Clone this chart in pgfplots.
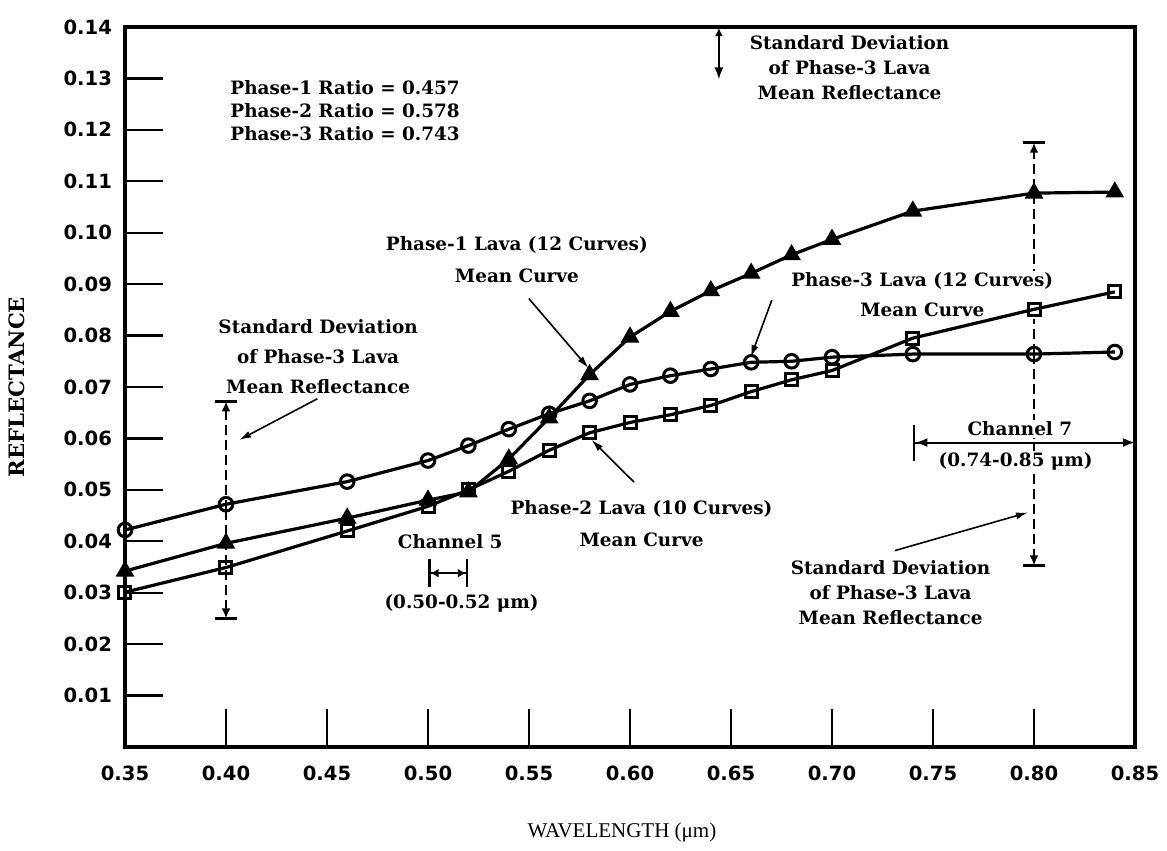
\documentclass[border=0pt]{standalone}
\usepackage{fontspec}
\usepackage{pgfplots}
\usepackage{pgfplotstable}
\pgfplotsset{compat=1.18}
\usetikzlibrary{arrows.meta}
\setmainfont{DejaVu Serif}
\newfontfamily\ticksfont{DejaVu Sans}
\newfontfamily\timesfont{Liberation Serif}

% Mean reflectance curves of the three lava phases
\pgfplotstableread{
wl    r
0.35 0.0342
0.40 0.0396
0.46 0.0445
0.50 0.0480
0.52 0.0496
0.54 0.0560
0.56 0.0640
0.58 0.0724
0.60 0.0797
0.62 0.0847
0.64 0.0887
0.66 0.0921
0.68 0.0957
0.70 0.0987
0.74 0.1042
0.80 0.1077
0.84 0.1079
}\phaseone

\pgfplotstableread{
wl    r
0.35 0.0301
0.40 0.0349
0.46 0.0420
0.50 0.0468
0.52 0.0500
0.54 0.0536
0.56 0.0577
0.58 0.0611
0.60 0.0631
0.62 0.0646
0.64 0.0664
0.66 0.0691
0.68 0.0714
0.70 0.0732
0.74 0.0795
0.80 0.0851
0.84 0.0885
}\phasetwo

\pgfplotstableread{
wl    r
0.35 0.0422
0.40 0.0472
0.46 0.0516
0.50 0.0557
0.52 0.0586
0.54 0.0618
0.56 0.0648
0.58 0.0673
0.60 0.0705
0.62 0.0722
0.64 0.0735
0.66 0.0748
0.68 0.0750
0.70 0.0758
0.74 0.0764
0.80 0.0764
0.84 0.0768
}\phasethree

% Standard deviation of the phase-3 mean reflectance
\pgfplotstableread{
wl    r       sd
0.40  0.0461  0.0211
0.80  0.0764  0.0411
}\phasethreesd

\tikzset{
  ann/.style={font=\bfseries\fontsize{9.2}{#1}\selectfont, align=center,
              fill=white, inner sep=1pt},
  ann/.default=12,
  annarrow/.style={line width=0.8pt, -{Latex[length=6pt,width=3.5pt]}},
}

\begin{document}
\begin{tikzpicture}
\begin{axis}[
  name=ax,
  scale only axis,
  width=505pt, height=360pt,
  xmin=0.35, xmax=0.85, ymin=0, ymax=0.14,
  clip=false,
  axis line style={line width=1.7pt},
  xtick={0.35,0.40,0.45,0.50,0.55,0.60,0.65,0.70,0.75,0.80,0.85},
  ytick={0.01,0.02,0.03,0.04,0.05,0.06,0.07,0.08,0.09,0.10,0.11,0.12,0.13,0.14},
  scaled x ticks=false, scaled y ticks=false,
  tick pos=left, tick align=inside,
  major tick length=19pt,
  x tick style={line width=1pt, black},
  y tick style={line width=1.2pt, black},
  /pgf/number format/assume math mode=true,
  tick label style={font=\ticksfont\bfseries\fontsize{9.8}{11}\selectfont},
  xticklabel style={/pgf/number format/fixed, /pgf/number format/fixed zerofill,
                    /pgf/number format/precision=2, yshift=-6pt},
  yticklabel style={/pgf/number format/fixed, /pgf/number format/fixed zerofill,
                    /pgf/number format/precision=2, xshift=-3pt},
  every axis x label/.style={at={(axis description cs:0.492,-0.119)}, anchor=center,
                             font=\timesfont\fontsize{10.5}{12}\selectfont},
  every axis y label/.style={at={(axis description cs:-0.107,0.5)}, rotate=90, anchor=center,
                             font=\bfseries\fontsize{10.6}{12}\selectfont},
  xlabel={WAVELENGTH (μm)},
  ylabel={REFLECTANCE},
]

% dashed standard-deviation bars
\addplot[draw=none, mark=none, forget plot,
  error bars/.cd, y dir=both, y explicit,
  error bar style={line width=1.1pt, dash pattern=on 5pt off 2.5pt,
                   -{Latex[length=5pt,width=4.5pt]}},
  error mark=-,
  error mark options={line width=1.4pt, mark size=5.5pt, solid, rotate=90}]
  table[x=wl, y=r, y error=sd] {\phasethreesd};

% annotations
\node[ann=11.5, anchor=west, align=left] at (0.401,0.1237)
  {Phase-1 Ratio = 0.457\\Phase-2 Ratio = 0.578\\Phase-3 Ratio = 0.743};
\node[ann=12.5] at (0.7087,0.1321)
  {Standard Deviation\\of Phase-3 Lava\\Mean Reflectance};
\draw[line width=1pt, {Latex[length=4pt,width=4pt]}-{Latex[length=6pt,width=4.5pt]}]
  (0.644,0.1398) -- (0.644,0.1298);

\node[ann=16] at (0.544,0.0947) {Phase-1 Lava (12 Curves)\\Mean Curve};
\draw[annarrow] (0.5499,0.0872) -- (0.5794,0.0737);

\node[ann=15] at (0.7447,0.0879) {Phase-3 Lava (12 Curves)\\Mean Curve};
\draw[annarrow] (0.6702,0.0869) -- (0.6598,0.0758);

\node[ann=15] at (0.4456,0.0759) {Standard Deviation\\of Phase-3 Lava\\Mean Reflectance};
\draw[annarrow] (0.4452,0.0677) -- (0.4065,0.0597);

\node[ann=16] at (0.6057,0.0434) {Phase-2 Lava (10 Curves)\\Mean Curve};
\draw[annarrow] (0.602,0.0515) -- (0.581,0.0597);

\node[ann] at (0.511,0.0399) {Channel 5};
\draw[line width=1.1pt, {Bar[width=14pt,line width=1.3pt]Latex[length=4pt,width=4.5pt]}-{Latex[length=4pt,width=4.5pt]Bar[width=14pt,line width=1.3pt]}]
  (0.50,0.0338) -- (0.52,0.0338);
\node[ann] at (0.5166,0.0280) {(0.50-0.52 μm)};

\node[ann] at (0.793,0.0619) {Channel 7};
\draw[line width=1pt, {Bar[width=18pt,line width=1.3pt]Latex[length=6pt,width=4.5pt]}-{Latex[length=6pt,width=4.5pt]}]
  (0.74,0.0592) -- (0.85,0.0592);
\node[ann] at (0.7909,0.0555) {(0.74-0.85 μm)};

\node[ann=12.5] at (0.729,0.0300) {Standard Deviation\\of Phase-3 Lava\\Mean Reflectance};
\draw[annarrow] (0.7312,0.0382) -- (0.797,0.0456);

% mean curves
\addplot[black, line width=1.6pt, mark=triangle*, mark size=3.8pt,
  mark options={solid, fill=black}] table[x=wl, y=r] {\phaseone};
\addplot[black, line width=1.6pt, mark=square, mark size=3pt,
  mark options={solid, fill=white, line width=1.5pt}] table[x=wl, y=r] {\phasetwo};
\addplot[black, line width=1.6pt, mark=o, mark size=3.4pt,
  mark options={solid, fill=white, line width=1.5pt}] table[x=wl, y=r] {\phasethree};

\end{axis}
\pgfresetboundingbox
\path[use as bounding box]
  ([shift={(-62.5pt,-52pt)}]ax.south west) rectangle ([shift={(16pt,13.5pt)}]ax.north east);
\end{tikzpicture}
\end{document}
